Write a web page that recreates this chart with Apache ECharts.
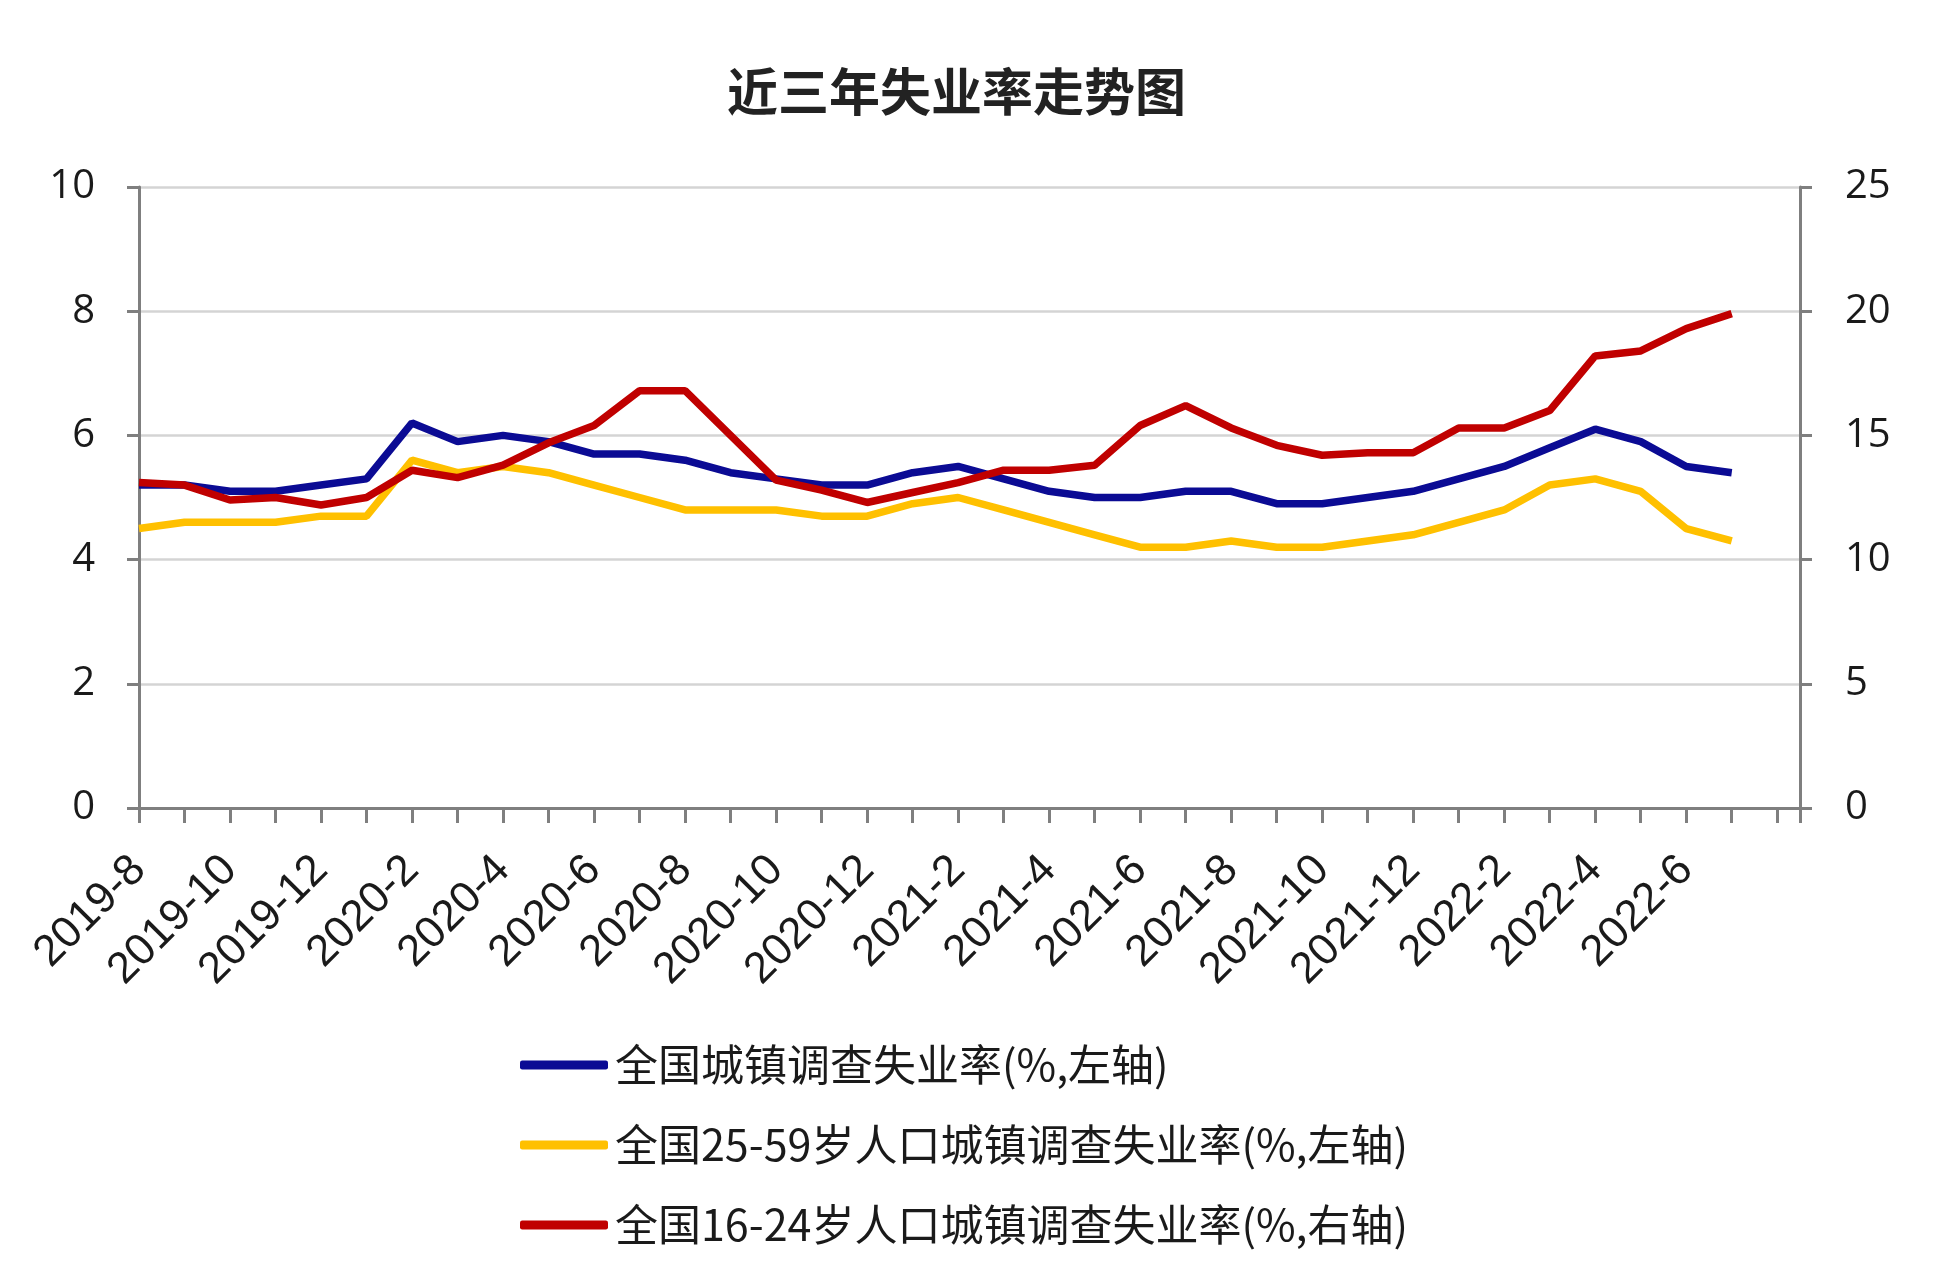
<!DOCTYPE html>
<html>
<head>
<meta charset="utf-8">
<script src="https://cdn.jsdelivr.net/npm/echarts@6/dist/echarts.min.js"></script>
<style>
html,body{margin:0;padding:0;background:#fff;}
#chart{width:1946px;height:1280px;}
</style>
</head>
<body>
<div id="chart"></div>
<script>
const titleText = '近三年失业率走势图';
const months = ['2019-8','2019-9','2019-10','2019-11','2019-12','2020-1','2020-2','2020-3','2020-4','2020-5','2020-6','2020-7',
  '2020-8','2020-9','2020-10','2020-11','2020-12','2021-1','2021-2','2021-3','2021-4','2021-5','2021-6','2021-7',
  '2021-8','2021-9','2021-10','2021-11','2021-12','2022-1','2022-2','2022-3','2022-4','2022-5','2022-6','2022-7'];
const seriesNames = ['全国城镇调查失业率(%,左轴)','全国25-59岁人口城镇调查失业率(%,左轴)','全国16-24岁人口城镇调查失业率(%,右轴)'];
const urbanRate = [5.2,5.2,5.1,5.1,5.2,5.3,6.2,5.9,6.0,5.9,5.7,5.7,5.6,5.4,5.3,5.2,5.2,5.4,5.5,5.3,5.1,5.0,5.0,5.1,5.1,4.9,4.9,5.0,5.1,5.3,5.5,5.8,6.1,5.9,5.5,5.4];
const age25to59 = [4.5,4.6,4.6,4.6,4.7,4.7,5.6,5.4,5.5,5.4,5.2,5.0,4.8,4.8,4.8,4.7,4.7,4.9,5.0,4.8,4.6,4.4,4.2,4.2,4.3,4.2,4.2,4.3,4.4,4.6,4.8,5.2,5.3,5.1,4.5,4.3];
const age16to24 = [13.1,13.0,12.4,12.5,12.2,12.5,13.6,13.3,13.8,14.7,15.4,16.8,16.8,15.0,13.2,12.8,12.3,12.7,13.1,13.6,13.6,13.8,15.4,16.2,15.3,14.6,14.2,14.3,14.3,15.3,15.3,16.0,18.2,18.4,19.3,19.9];
const leftTicks = [0,2,4,6,8,10];
const rightTicks = [0,5,10,15,20,25];
const colors = ['#0b0b94','#ffc000','#c00000'];

const toPairs = arr => arr.map((v, i) => [i, v]);

const chart = echarts.init(document.getElementById('chart'), null, {renderer: 'canvas'});
const axisGray = '#7f7f7f';
chart.setOption({
  backgroundColor: '#ffffff',
  animation: false,
  title: {
    text: titleText,
    left: 722,
    top: 61,
    textStyle: {fontSize: 51, fontWeight: 'bold', color: '#222', fontFamily: 'Noto Sans CJK SC'}
  },
  grid: {left: 139, right: 146, top: 187, bottom: 472, containLabel: false},
  legend: {
    orient: 'vertical',
    left: 515,
    top: 1035,
    itemWidth: 88,
    itemHeight: 9,
    itemGap: 30,
    icon: 'roundRect',
    data: seriesNames,
    textStyle: {fontSize: 43, lineHeight: 50, color: '#1a1a1a', fontFamily: 'Noto Sans CJK SC', padding: [0,0,0,2]}
  },
  xAxis: {
    type: 'value',
    min: 0,
    max: months.length + 0.5,
    interval: 1,
    splitLine: {show: false},
    axisLine: {show: true, onZero: false, lineStyle: {color: axisGray, width: 3}},
    axisTick: {show: true, length: 15, lineStyle: {color: axisGray, width: 3}},
    axisLabel: {
      rotate: 45,
      margin: 55,
      fontSize: 44,
      color: '#1a1a1a',
      fontFamily: 'Liberation Sans',
      showMinLabel: true,
      showMaxLabel: true,
      formatter: v => (Number.isInteger(v) && v % 2 === 0 && months[v]) ? months[v] : ''
    }
  },
  yAxis: [
    {
      type: 'value', position: 'left',
      min: leftTicks[0], max: leftTicks[leftTicks.length - 1], interval: leftTicks[1] - leftTicks[0],
      axisLine: {show: true, onZero: false, lineStyle: {color: axisGray, width: 3}},
      axisTick: {show: true, length: 12, lineStyle: {color: axisGray, width: 3}},
      splitLine: {show: true, lineStyle: {color: '#d4d4d4', width: 2.5}},
      axisLabel: {margin: 44, fontSize: 40, color: '#1a1a1a', fontFamily: 'Open Sans'}
    },
    {
      type: 'value', position: 'right',
      min: rightTicks[0], max: rightTicks[rightTicks.length - 1], interval: rightTicks[1] - rightTicks[0],
      axisLine: {show: true, onZero: false, lineStyle: {color: axisGray, width: 3}},
      axisTick: {show: true, length: 12, lineStyle: {color: axisGray, width: 3}},
      splitLine: {show: false},
      axisLabel: {margin: 45, fontSize: 40, color: '#1a1a1a', fontFamily: 'Open Sans'}
    }
  ],
  series: [
    {name: seriesNames[0], type: 'line', yAxisIndex: 0, data: toPairs(urbanRate), color: colors[0], symbol: 'none', lineStyle: {width: 7.5, color: colors[0]}, z: 3},
    {name: seriesNames[1], type: 'line', yAxisIndex: 0, data: toPairs(age25to59), color: colors[1], symbol: 'none', lineStyle: {width: 7.5, color: colors[1]}, z: 4},
    {name: seriesNames[2], type: 'line', yAxisIndex: 1, data: toPairs(age16to24), color: colors[2], symbol: 'none', lineStyle: {width: 7.5, color: colors[2]}, z: 5}
  ]
});
</script>
</body>
</html>
